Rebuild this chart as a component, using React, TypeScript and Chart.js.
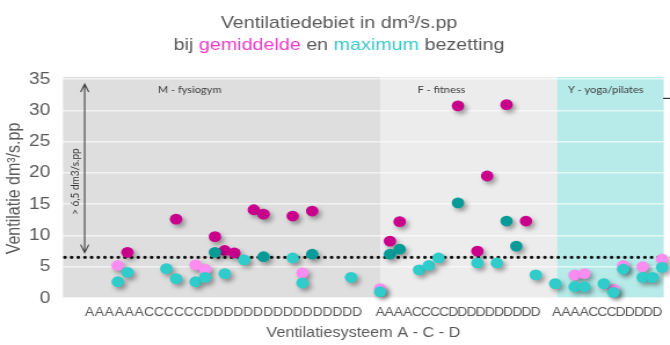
import React, { useEffect, useRef } from "react";
import { Chart, registerables } from "chart.js";

Chart.register(...registerables);

// ---------- DATA ----------
const titleLine1 = "Ventilatiedebiet in dm³/s.pp";
const titleLine2 = [
  { text: "bij ", role: "text" },
  { text: "gemiddelde", role: "gem" },
  { text: " en ", role: "text" },
  { text: "maximum", role: "max" },
  { text: " bezetting", role: "text" },
];
const yAxisTitle = "Ventilatie dm³/s.pp";
const xAxisTitle = "Ventilatiesysteem A - C - D";

// Sections (sport type) and their ventilation-system label strings
const sectionNames = ["M - fysiogym", "F - fitness", "Y - yoga/pilates"];
const sectionSystems = [
  "AAAAAACCCCCCDDDDDDDDDDDDDDDD",
  "AAAACCCCDDDDDDDDDD",
  "AAAACCCDDDDDDD",
];
// first slot of each section (x units)
const sectionStartSlot = [-0.63, 32, 50.18];

// Threshold
const threshold = 6.5;
const thresholdLabel = "> 6,5 dm3/s.pp";

// Series: gemiddelde bezetting (average occupancy)
const gemSlots = [5, 6, 11, 13, 14, 15, 16, 17, 19, 20, 23, 24, 25, 32, 33, 34, 40, 42, 43, 45, 47, 52, 53, 56, 57, 59, 61];
const gemValues = [5.2, 7.3, 12.6, 5.3, 4.6, 9.8, 7.6, 7.2, 14.1, 13.4, 13.1, 4.0, 13.9, 1.5, 9.1, 12.2, 30.7, 7.5, 19.5, 30.9, 12.3, 3.7, 3.9, 1.4, 5.2, 5.0, 6.2];

// Series: maximum bezetting (maximum occupancy)
const maxSlots = [5, 6, 10, 11, 13, 14, 15, 16, 18, 20, 23, 24, 25, 29, 32, 33, 34, 36, 37, 38, 40, 42, 44, 45, 46, 48, 50, 52, 53, 55, 56, 57, 59, 60, 61];
const maxValues = [2.6, 4.1, 4.7, 3.1, 2.6, 3.3, 7.3, 3.9, 6.1, 6.6, 6.4, 2.4, 7.0, 3.3, 1.0, 7.0, 7.8, 4.5, 5.2, 6.4, 15.2, 5.6, 5.6, 12.3, 8.3, 3.7, 2.3, 1.8, 1.8, 2.3, 0.9, 4.6, 3.3, 3.3, 4.9];

// Y ticks
const yMin = 0;
const yMax = 35;
const yStep = 5;

// ---------- STYLE / LAYOUT ----------
const W = 670;
const H = 345;
const STRETCH = 1.159; // the original picture is horizontally stretched
const IW = Math.round(W / STRETCH); // internal canvas width
const X_MIN = -0.63;
const X_MAX = 61.17;
const GRAY_TEXT = "#595959";
const FONT = '"Liberation Sans", Arial, sans-serif';
const SMALL_FONT = 'Lato, "Open Sans", sans-serif';
const COLORS = {
  gemHigh: "#c8008c",
  gemLow: "#fb8cf0",
  maxHigh: "#079b98",
  maxLow: "#2fcccb",
  titleGem: "#f03cc8",
  titleMax: "#3cc8c8",
};
const bandColors = ["#dedede", "#ececec", "#b6ebe9"];
const letterLayout = [
  { start: 2.1, step: 1.02 },
  { start: 32.0, step: 0.94 },
  { start: 50.16, step: 0.94 },
];
const sectionLabelSlot = [12.4, 38.3, 55.2];

const xTickPos: number[] = [];
const xTickLbl: string[] = [];
sectionSystems.forEach((s, i) => {
  const { start, step } = letterLayout[i];
  s.split("").forEach((ch, k) => {
    const v = start + k * step;
    if (v <= X_MAX - 0.4) {
      xTickPos.push(v);
      xTickLbl.push(ch);
    }
  });
});

const toPoints = (slots: number[], vals: number[]) =>
  slots.map((s, i) => ({ x: s, y: vals[i] }));

const titlePlugin = {
  id: "twoLineTitle",
  afterDraw(chart: any) {
    const ctx = chart.ctx;
    ctx.save();
    ctx.font = `17px ${FONT}`;
    ctx.textBaseline = "middle";
    const cx = 339 / STRETCH;
    ctx.fillStyle = GRAY_TEXT;
    ctx.textAlign = "center";
    ctx.fillText(titleLine1, cx, 23);
    ctx.textAlign = "left";
    const total = titleLine2.reduce((s, g) => s + ctx.measureText(g.text).width, 0);
    let x = cx - total / 2;
    titleLine2.forEach((g) => {
      ctx.fillStyle = g.role === "gem" ? COLORS.titleGem : g.role === "max" ? COLORS.titleMax : GRAY_TEXT;
      ctx.fillText(g.text, x, 45);
      x += ctx.measureText(g.text).width;
    });
    ctx.restore();
  },
};

const decorPlugin = {
  id: "decor",
  beforeDraw(chart: any) {
    const { ctx, chartArea: a, scales } = chart;
    const xs = scales.x;
    ctx.save();
    sectionStartSlot.forEach((from, i) => {
      const x0 = Math.max(a.left, xs.getPixelForValue(from));
      const x1 = i < sectionStartSlot.length - 1 ? xs.getPixelForValue(sectionStartSlot[i + 1]) : a.right;
      ctx.fillStyle = bandColors[i];
      ctx.fillRect(x0, a.top - 2, x1 - x0, a.bottom - a.top + 2);
    });
    ctx.restore();
  },
  beforeDatasetsDraw(chart: any) {
    const { ctx, scales } = chart;
    const xs = scales.x;
    const ys = scales.y;
    ctx.save();
    ctx.font = `9.5px ${SMALL_FONT}`;
    ctx.fillStyle = "#3a3a3a";
    ctx.textAlign = "center";
    ctx.textBaseline = "middle";
    sectionNames.forEach((n, i) => {
      ctx.fillText(n, xs.getPixelForValue(sectionLabelSlot[i]), ys.getPixelForValue(33.3));
    });
    // short mark at the right edge
    ctx.strokeStyle = "#333";
    ctx.lineWidth = 1.2;
    ctx.beginPath();
    ctx.moveTo(663 / STRETCH, ys.getPixelForValue(31.9));
    ctx.lineTo(IW + 2, ys.getPixelForValue(31.9));
    ctx.stroke();

    // double arrow
    const ax = xs.getPixelForValue(1.6);
    const yTop = ys.getPixelForValue(34.2);
    const yBot = ys.getPixelForValue(threshold + 0.75);
    ctx.strokeStyle = "#404040";
    ctx.lineWidth = 1.1;
    ctx.beginPath();
    ctx.moveTo(ax, yTop);
    ctx.lineTo(ax, yBot);
    ctx.moveTo(ax - 3.5, yTop + 8);
    ctx.lineTo(ax, yTop);
    ctx.lineTo(ax + 3.5, yTop + 8);
    ctx.moveTo(ax - 3.5, yBot - 8);
    ctx.lineTo(ax, yBot);
    ctx.lineTo(ax + 3.5, yBot - 8);
    ctx.stroke();

    ctx.save();
    ctx.translate(xs.getPixelForValue(0.59), ys.getPixelForValue(18.6));
    ctx.rotate(-Math.PI / 2);
    ctx.font = `10px ${SMALL_FONT}`;
    ctx.fillStyle = "#333";
    ctx.fillText(thresholdLabel, 0, 0);
    ctx.restore();
    ctx.restore();
  },
  beforeDatasetDraw(chart: any, args: any) {
    const ds = chart.data.datasets[args.index];
    if (ds.type === "scatter") {
      const ctx = chart.ctx;
      ctx.save();
      ctx.shadowColor = "rgba(0,0,0,0.35)";
      ctx.shadowBlur = 4;
      ctx.shadowOffsetX = 2.5;
      ctx.shadowOffsetY = 3;
    }
  },
  afterDatasetDraw(chart: any, args: any) {
    const ds = chart.data.datasets[args.index];
    if (ds.type === "scatter") chart.ctx.restore();
  },
};

export default function App() {
  const ref = useRef<HTMLCanvasElement | null>(null);
  useEffect(() => {
    if (!ref.current) return;
    const colorBy = (hi: string, lo: string) => (c: any) => {
      const v = c.raw && typeof c.raw.y === "number" ? c.raw.y : 0;
      return v >= threshold ? hi : lo;
    };
    const chart = new Chart(ref.current, {
      type: "scatter",
      data: {
        datasets: [
          {
            type: "scatter",
            label: "maximum",
            data: toPoints(maxSlots, maxValues),
            backgroundColor: colorBy(COLORS.maxHigh, COLORS.maxLow),
            pointBackgroundColor: colorBy(COLORS.maxHigh, COLORS.maxLow),
            pointRadius: 5.4,
            pointBorderWidth: 0,
            borderWidth: 0,
            order: 1,
            clip: false,
          } as any,
          {
            type: "scatter",
            label: "gemiddelde",
            data: toPoints(gemSlots, gemValues),
            backgroundColor: colorBy(COLORS.gemHigh, COLORS.gemLow),
            pointBackgroundColor: colorBy(COLORS.gemHigh, COLORS.gemLow),
            pointRadius: 5.4,
            pointBorderWidth: 0,
            borderWidth: 0,
            order: 2,
            clip: false,
          } as any,
          {
            type: "line",
            label: "norm",
            data: [
              { x: X_MIN + 0.2, y: threshold },
              { x: X_MAX + 1, y: threshold },
            ],
            borderColor: "#111",
            borderWidth: 3.3,
            borderDash: [0.001, 5.75],
            borderCapStyle: "round",
            pointRadius: 0,
            order: 3,
            clip: false,
          } as any,
        ],
      },
      options: {
        animation: false,
        responsive: false,
        events: [],
        layout: { padding: { top: 79, left: 0, right: 0, bottom: 0 } },
        plugins: {
          legend: { display: false },
          title: { display: false },
          tooltip: { enabled: false },
        },
        scales: {
          x: {
            type: "linear",
            min: X_MIN,
            max: X_MAX,
            afterBuildTicks: (axis: any) => {
              axis.ticks = xTickPos.map((v) => ({ value: v }));
            },
            afterFit: (scale: any) => {
              scale.height = 47;
              scale.paddingLeft = 0;
              scale.paddingRight = 0;
            },
            grid: { display: false, drawTicks: false },
            border: { display: false },
            ticks: {
              autoSkip: false,
              maxRotation: 0,
              minRotation: 0,
              padding: 7,
              color: GRAY_TEXT,
              font: { family: FONT, size: 12 },
              callback: (_v: any, i: number) => xTickLbl[i] ?? "",
            },
            title: {
              display: true,
              text: xAxisTitle,
              color: GRAY_TEXT,
              font: { family: FONT, size: 14 },
              padding: { top: 5, bottom: 3 },
            },
          },
          y: {
            min: yMin,
            max: yMax,
            afterFit: (scale: any) => {
              scale.width = 63 / STRETCH;
            },
            grid: {
              color: "rgba(255,255,255,0.6)",
              lineWidth: 1.5,
              drawTicks: false,
            },
            border: { display: false },
            ticks: {
              stepSize: yStep,
              padding: 11,
              color: GRAY_TEXT,
              font: { family: FONT, size: 16.5 },
            },
            title: {
              display: true,
              text: yAxisTitle,
              color: GRAY_TEXT,
              font: { family: FONT, size: 16 },
              padding: { top: 3.3, bottom: 4 },
            },
          },
        },
      },
      plugins: [decorPlugin, titlePlugin],
    });
    return () => chart.destroy();
  }, []);

  return (
    <div style={{ position: "fixed", left: 0, top: 0, width: W, height: H, overflow: "hidden", background: "#fff" }}>
      <canvas
        ref={ref}
        width={IW}
        height={H}
        style={{ display: "block", width: IW, height: H, transform: `scaleX(${W / IW})`, transformOrigin: "0 0" }}
      />
    </div>
  );
}
